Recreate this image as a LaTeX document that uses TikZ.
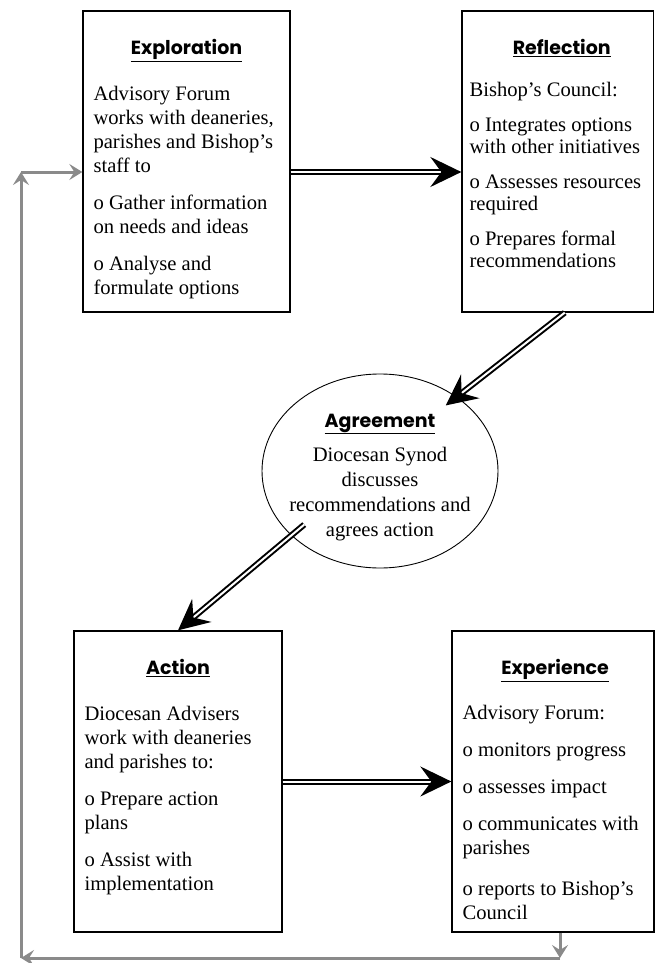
\documentclass[tikz,border=0pt]{standalone}
\usepackage{fontspec}
\setmainfont{Liberation Serif}
\newfontfamily\headfont{Poppins}
\usetikzlibrary{calc,positioning,shapes.geometric,arrows.meta}
\definecolor{loopgray}{RGB}{138,138,138}
\tikzset{
  stage/.style={draw,line width=1.3pt,minimum height=301pt,inner sep=0pt},
  head/.style={font=\headfont\bfseries\fontsize{19}{22}\selectfont,inner sep=0pt,anchor=base},
  body/.style={font=\fontsize{20.6}{24}\selectfont,align=left,inner sep=0pt,anchor=north west},
  flow/.style={double,line width=2pt,double distance=2pt,-{Stealth[length=31pt,width=30pt,inset=11pt]}},
  back/.style={draw=loopgray,line width=3pt,-{Stealth[length=13pt,width=16pt,inset=5pt]}}
}

\begin{document}
\begin{tikzpicture}[x=1pt,y=-1pt]
%
\def\gap{13pt}
\def\hd{44}
\def\bd{73}
%
\useasboundingbox (0,0) rectangle (655,963);
%
\coordinate(fb1)at(560,958);
\coordinate(fb2)at(21,958);
\coordinate(fb3)at(21,172);
%
\node[stage,minimum width=207pt] (explo) at (186.5,161.5) {};
\node[stage,minimum width=191.5pt] (reflect) at (557.75,161.5) {};
\node[stage,minimum width=208pt] (action) at (178,781.5) {};
\node[stage,minimum width=202pt] (expe) at (553,781.5) {};
\node[draw,ellipse,line width=0.9pt,minimum width=236pt,minimum height=194pt,inner sep=0pt] (agree) at (380,471) {};
%
\node[head] (explohd) at ($(explo.north)+(0,\hd)$) {\underline{Exploration}};
\node[head] (reflecthd) at ($(reflect.north)+(4,\hd)$) {\underline{Reflection}};
\node[head] (actionhd) at ($(action.north)+(0,\hd)$) {\underline{Action}};
\node[head] (expehd) at ($(expe.north)+(2,\hd)$) {\underline{Experience}};
\node[head] (agreehd) at ($(agree.center)+(0,-44)$) {\underline{Agreement}};
%
\node[body] (explotxt) at ($(explo.north west)+(11,\bd)$) {\strut Advisory Forum\\ works with deaneries,\\ parishes and Bishop’s\\ staff to\\[\gap]
o Gather information\\ on needs and ideas\\[\gap] o Analyse and\\ formulate options};
\node[body,font=\fontsize{20.6}{22}\selectfont] (reflecttxt) at ($(reflect.north west)+(8,\bd-2.5)$) {\strut Bishop’s Council:\\[\gap]
o Integrates options\\ with other initiatives\\[\gap] o Assesses resources\\ required\\[\gap] o Prepares formal\\ recommendations};
\node[body] (actiontxt) at ($(action.north west)+(11,\bd)$) {\strut Diocesan Advisers\\ work with deaneries\\ and parishes to:\\[\gap]
o Prepare action\\ plans\\[\gap] o Assist with\\ implementation};
\node[body] (expetxt) at ($(expe.north west)+(11,\bd-1)$) {\strut Advisory Forum:\\[\gap] o monitors progress\\[\gap] o assesses impact\\[\gap]
o communicates with\\ parishes\\[\gap+4pt] o reports to Bishop’s\\ Council};
\node[body,align=center,anchor=north,font=\fontsize{20.6}{25}\selectfont] (agreetxt) at ($(agree.center)+(0,-27.5)$) {\strut Diocesan Synod\\ discusses\\ recommendations and\\ agrees action};
%
\draw[flow] ($(explo.east)+(0,10.5)$) -- ($(reflect.west)+(0,10.5)$);
\draw[flow,shorten >=-14pt] ($(reflect.south)+(7,0)$) -- (agree.44);
\draw[flow,shorten <=-17pt] (agree.216) -- (action.north);
\draw[flow] (action.east) -- (expe.west);
%
\draw[back] (expe.south -| fb1) -- (fb1);
\draw[back] (fb1) -- (fb2);
\draw[back] (fb2) -- (fb3);
\draw[back] (fb3) -- (explo.west |- fb3);
%
\end{tikzpicture}
\end{document}
